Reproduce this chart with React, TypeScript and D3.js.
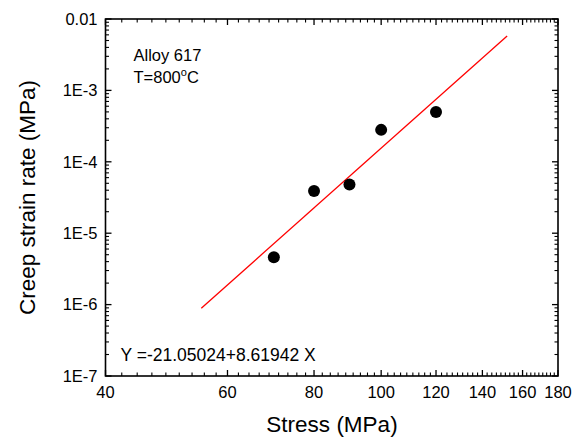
import React from "react";
import * as d3 from "d3";

// measured creep data (Alloy 617, 800 C)
const stress = [70, 80, 90, 100, 120];
const strainRate = [4.6e-6, 3.9e-5, 4.8e-5, 2.8e-4, 5.0e-4];

// ends of the fitted line
const fitStress = [55, 152];
const fitRate = [8.9e-7, 5.8e-3];

const xTicks = [40, 60, 80, 100, 120, 140, 160, 180];
const yTicks = [1e-7, 1e-6, 1e-5, 1e-4, 1e-3, 1e-2];
const yTickLabels = ["1E-7", "1E-6", "1E-5", "1E-4", "1E-3", "0.01"];

const W = 583;
const H = 437;
const margin = { top: 19, right: 25, bottom: 61, left: 105.5 };
const FONT = "Liberation Sans, Arial, Helvetica, sans-serif";

export default function App() {
  const innerW = W - margin.left - margin.right;
  const innerH = H - margin.top - margin.bottom;

  const x = d3.scaleLog().domain([40, 180]).range([0, innerW]);
  const y = d3.scaleLog().domain([1e-7, 1e-2]).range([innerH, 0]);

  // minor ticks: 8 between each pair of x labels, 2..9 per decade on y
  const xMinor: number[] = [];
  for (let i = 0; i < xTicks.length - 1; i++) {
    const step = (xTicks[i + 1] - xTicks[i]) / 9;
    for (let k = 1; k < 9; k++) xMinor.push(xTicks[i] + k * step);
  }
  const yMinor: number[] = [];
  for (let i = 0; i < yTicks.length - 1; i++) {
    for (let k = 2; k < 10; k++) yMinor.push(yTicks[i] * k);
  }

  const major = 6;
  const minor = 3.5;
  const line = d3.line<number>()
    .x((d) => x(d))
    .y((d, i) => y(fitRate[i]));

  return (
    <svg width={W} height={H} style={{ position: "absolute", left: 0, top: 0 }} fontFamily={FONT}>
      <rect width={W} height={H} fill="#fff" />
      <g transform={`translate(${margin.left},${margin.top})`}>
        {/* fit line */}
        <path d={line(fitStress) || ""} fill="none" stroke="#ff0000" strokeWidth={1.3} />

        {/* data */}
        {stress.map((s, i) => (
          <circle key={i} cx={x(s)} cy={y(strainRate[i])} r={6} fill="#000" />
        ))}

        {/* frame */}
        <rect width={innerW} height={innerH} fill="none" stroke="#000" strokeWidth={1.6} />

        {/* x ticks bottom and top */}
        {xTicks.map((t) => (
          <g key={"xt" + t}>
            <line x1={x(t)} x2={x(t)} y1={innerH} y2={innerH - major} stroke="#000" strokeWidth={1.3} />
            <line x1={x(t)} x2={x(t)} y1={0} y2={major} stroke="#000" strokeWidth={1.3} />
            <text x={x(t)} y={innerH + 22} textAnchor="middle" fontSize={16.5}>{t}</text>
          </g>
        ))}
        {xMinor.map((t, i) => (
          <g key={"xm" + i}>
            <line x1={x(t)} x2={x(t)} y1={innerH} y2={innerH - minor} stroke="#000" strokeWidth={1.1} />
            <line x1={x(t)} x2={x(t)} y1={0} y2={minor} stroke="#000" strokeWidth={1.1} />
          </g>
        ))}

        {/* y ticks left and right */}
        {yTicks.map((t, i) => (
          <g key={"yt" + i}>
            <line x1={0} x2={major} y1={y(t)} y2={y(t)} stroke="#000" strokeWidth={1.3} />
            <line x1={innerW} x2={innerW - major} y1={y(t)} y2={y(t)} stroke="#000" strokeWidth={1.3} />
            <text x={-8} y={y(t)} dy="0.35em" textAnchor="end" fontSize={16.5}>{yTickLabels[i]}</text>
          </g>
        ))}
        {yMinor.map((t, i) => (
          <g key={"ym" + i}>
            <line x1={0} x2={minor} y1={y(t)} y2={y(t)} stroke="#000" strokeWidth={1.1} />
            <line x1={innerW} x2={innerW - minor} y1={y(t)} y2={y(t)} stroke="#000" strokeWidth={1.1} />
          </g>
        ))}

        {/* annotations */}
        <text x={28} y={42} fontSize={16.5}>Alloy 617</text>
        <text x={28} y={64} fontSize={16.5}>
          T=800<tspan dy={-7} fontSize={11}>o</tspan><tspan dy={7}>C</tspan>
        </text>
        <text x={15} y={342} fontSize={17.5}>Y =-21.05024+8.61942 X</text>
      </g>

      {/* axis titles */}
      <text x={332} y={432} textAnchor="middle" fontSize={22.5}>Stress (MPa)</text>
      <text transform={`translate(35,${margin.top + innerH / 2}) rotate(-90)`} textAnchor="middle" fontSize={22.5}>
        Creep strain rate (MPa)
      </text>
    </svg>
  );
}
